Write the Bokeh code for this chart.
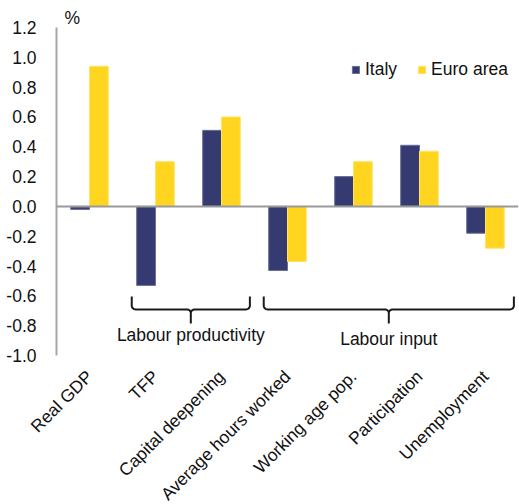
import math
from bokeh.plotting import figure
from bokeh.models import Range1d, FixedTicker, Span, Legend, LegendItem, Label, ColumnDataSource
from bokeh.embed import file_html
from bokeh.resources import INLINE

categories = ["Real GDP", "TFP", "Capital deepening", "Average hours worked",
              "Working age pop.", "Participation", "Unemployment"]
italy = [-0.02, -0.53, 0.51, -0.43, 0.20, 0.41, -0.18]
euro_area = [0.94, 0.30, 0.60, -0.37, 0.30, 0.37, -0.28]
y_ticks = [-1.0, -0.8, -0.6, -0.4, -0.2, 0.0, 0.2, 0.4, 0.6, 0.8, 1.0, 1.2]
groups = [("Labour productivity", 1, 2), ("Labour input", 3, 6)]

NAVY = "#353B70"
YELLOW = "#FFD520"
FONT = "Liberation Sans"
FS = "17.5px"
TXT = "#111111"

idx = list(range(len(categories)))
bw = 0.285

p = figure(frame_width=462, frame_height=328, output_backend="svg",
           toolbar_location=None, x_range=Range1d(-0.5, len(categories) - 0.5),
           y_range=Range1d(-1.0, 1.2), min_border_left=56, min_border_top=27,
           min_border_right=1, min_border_bottom=140)
p.outline_line_color = None
p.xgrid.visible = False
p.ygrid.visible = False

# "%" unit marker as title
p.title.text = "%"
p.title.text_font = FONT
p.title.text_font_size = FS
p.title.text_font_style = "normal"
p.title.text_color = TXT
p.title.align = "left"
p.title.offset = 8
p.title.standoff = 0

src = ColumnDataSource(dict(xi=[i - bw / 2 for i in idx], xe=[i + bw / 2 for i in idx],
                            it=italy, eu=euro_area))
r_it = p.vbar(x="xi", top="it", bottom=0, width=bw, source=src,
              fill_color=NAVY, line_color="#6A6E99", line_width=1)
r_eu = p.vbar(x="xe", top="eu", bottom=0, width=bw, source=src,
              fill_color=YELLOW, line_color="#FFE36A", line_width=1)

p.add_layout(Span(location=0, dimension="width", line_color="#9A9A9A", line_width=2))

# axes
p.yaxis.ticker = FixedTicker(ticks=y_ticks)
p.yaxis.major_label_overrides = {t: f"{t:.1f}" for t in y_ticks}
p.yaxis.axis_line_color = "#A6A6A6"
p.yaxis.axis_line_width = 2
p.yaxis.major_tick_line_color = None
p.yaxis.minor_tick_line_color = None
p.yaxis.major_label_text_font = FONT
p.yaxis.major_label_text_font_size = FS
p.yaxis.major_label_text_color = TXT
p.yaxis.major_label_standoff = 14

p.xaxis.ticker = FixedTicker(ticks=idx)
p.xaxis.major_label_overrides = {i: c for i, c in zip(idx, categories)}
p.xaxis.major_label_orientation = math.pi / 4
p.xaxis.axis_line_color = None
p.xaxis.major_tick_line_color = None
p.xaxis.minor_tick_line_color = None
p.xaxis.major_label_text_font = FONT
p.xaxis.major_label_text_font_size = FS
p.xaxis.major_label_text_color = TXT
p.xaxis.major_label_standoff = 12

# braces (annotation shapes)
y_top, y_mid, y_tip = -0.604, -0.691, -0.785
rx, ry = 0.06, 0.025
pad_l, pad_r = 0.36, 0.43
N = 8


def brace(x0, x1):
    xc = (x0 + x1) / 2
    xs, ys = [x0], [y_top]
    for k in range(N + 1):
        a = math.pi / 2 * k / N
        xs.append(x0 + rx * (1 - math.cos(a))); ys.append(y_mid + ry * (1 - math.sin(a)))
    for k in range(N + 1):
        a = math.pi / 2 * k / N
        xs.append(xc - rx * (1 - math.sin(a))); ys.append(y_mid - ry * (1 - math.cos(a)))
    xs.append(xc); ys.append(y_tip)
    xs.append(xc); ys.append(y_mid - ry)
    for k in range(N + 1):
        a = math.pi / 2 * k / N
        xs.append(xc + rx * (1 - math.cos(a))); ys.append(y_mid - ry * (1 - math.sin(a)))
    for k in range(N + 1):
        a = math.pi / 2 * k / N
        xs.append(x1 - rx * (1 - math.sin(a))); ys.append(y_mid + ry * (1 - math.cos(a)))
    xs.append(x1); ys.append(y_top)
    return xs, ys, xc


text_y = [-0.865, -0.89]
for (name, a, b), ty in zip(groups, text_y):
    xs, ys, xc = brace(a - pad_l, b + pad_r)
    p.line(xs, ys, line_color="#1A1A1A", line_width=2)
    p.add_layout(Label(x=xc, y=ty, text=name, text_align="center", text_baseline="middle",
                       text_font=FONT, text_font_size=FS, text_color=TXT))

legend = Legend(items=[LegendItem(label="Italy", renderers=[r_it]),
                       LegendItem(label="Euro area", renderers=[r_eu])],
                location=(295, 275), orientation="horizontal",
                glyph_width=9, glyph_height=9, label_standoff=5, spacing=20,
                padding=0, margin=0, border_line_color=None,
                background_fill_alpha=0, label_text_font=FONT,
                label_text_font_size=FS, label_text_color=TXT)
p.add_layout(legend, "center")

open("out.html", "w").write(file_html(p, INLINE))
